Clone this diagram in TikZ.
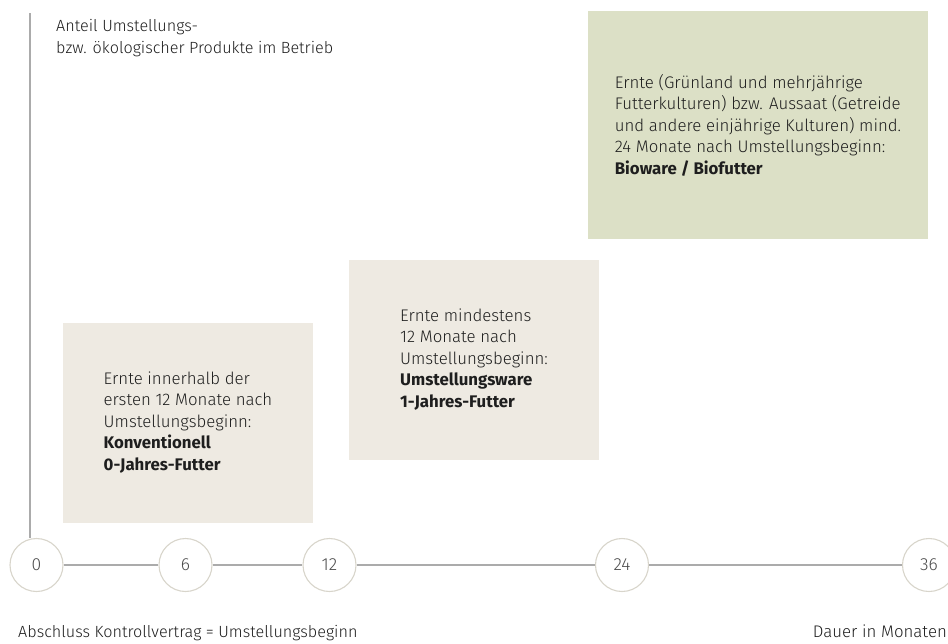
\documentclass[tikz,border=0pt]{standalone}
\usepackage{fontspec}
\setmainfont{Fira Sans}[UprightFont=* Light, BoldFont=* Bold]
\usepackage{tikz}

\definecolor{boxbeige}{HTML}{EEEAE2}
\definecolor{boxgreen}{HTML}{DCE0C6}
\definecolor{axisgray}{HTML}{ABABAB}
\definecolor{ringgray}{HTML}{D8D5CB}
\definecolor{textdark}{HTML}{1E1E1E}

\begin{document}
\begin{tikzpicture}[x=1pt,y=-1pt,
	txt/.style={font=\fontsize{16.8}{21.5}\selectfont,text=textdark,inner sep=0pt},
	smalltxt/.style={txt,font=\fontsize{16.2}{22}\selectfont},
	phase/.style={txt,fill=boxbeige,align=left,minimum width=250pt,minimum height=200pt},
	month/.style={shape=circle,draw=ringgray,line width=1.1pt,fill=white,minimum size=53pt,
		inner sep=0pt,font=\fontsize{17.5}{20}\selectfont,text=black!70},
	axis/.style={draw=axisgray,line width=1.6pt}]
	\useasboundingbox (0,0) rectangle (948,643);
	% phases
	\node[phase] (p0) at (188, 422.5) {Ernte innerhalb der\\ersten 12 Monate nach\\Umstellungsbeginn:\\\textbf{Konventionell}\\\textbf{0-Jahres-Futter}};
	\node[phase] (p1) at (474, 359.5) {Ernte mindestens\\12 Monate nach\\Umstellungsbeginn:\\\textbf{Umstellungsware}\\\textbf{1-Jahres-Futter}};
	\node[phase,fill=boxgreen,minimum width=340pt,minimum height=228pt] (p2) at (758, 125) {Ernte (Grünland und mehrjährige\\Futterkulturen) bzw. Aussaat (Getreide\\und andere einjährige Kulturen) mind.\\24 Monate nach Umstellungsbeginn:\\\textbf{Bioware / Biofutter}};
	% time axis
	\node[month] (t0)  at (36.5, 565)  {0};
	\node[month] (t6)  at (185.5, 565) {6};
	\node[month] (t12) at (329.5, 565) {12};
	\node[month] (t24) at (622, 565)   {24};
	\node[month] (t36) at (929, 565)   {36};
	\coordinate (ytop) at (30, 13);
	\path[axis] (ytop) -- (ytop |- t0.north);
	\path[axis] (t0) -- (t6);
	\path[axis] (t6) -- (t12);
	\path[axis] (t12) -- (t24);
	\path[axis] (t24) -- (t36);
	% labels
	\node[smalltxt,anchor=base west,align=left] (ylab) at (56, 53) {Anteil Umstellungs-\\bzw. ökologischer Produkte im Betrieb};
	\node[smalltxt,anchor=base west] (start) at (18, 637) {Abschluss Kontrollvertrag = Umstellungsbeginn};
	\node[txt,anchor=base east] (xlab) at (947, 637) {Dauer in Monaten};
\end{tikzpicture}
\end{document}
